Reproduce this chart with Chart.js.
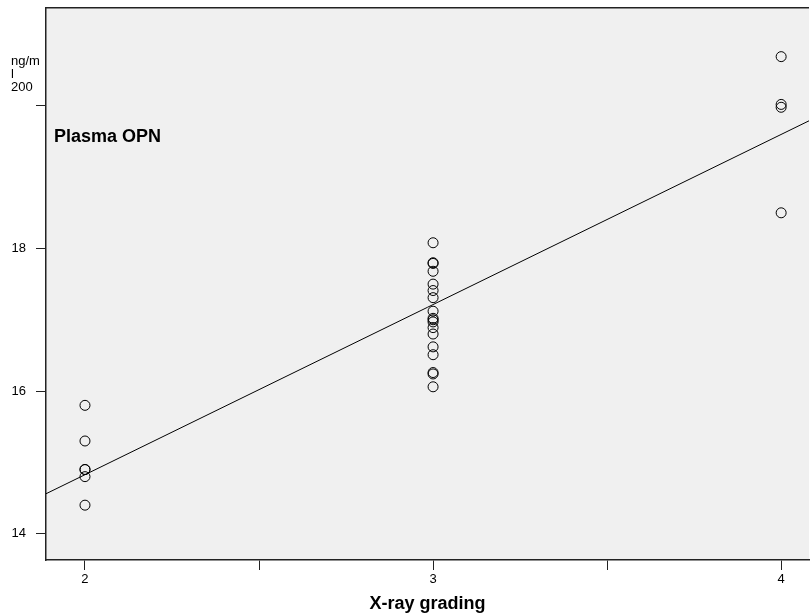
<!DOCTYPE html>
<html>
<head>
<meta charset="utf-8">
<script src="https://cdn.jsdelivr.net/npm/chart.js@4.4.1/dist/chart.umd.min.js"></script>
<style>
html,body{margin:0;padding:0;background:#fff;}
#wrap{width:810px;height:616px;position:relative;overflow:hidden;}
#c{position:absolute;left:0;top:-10px;}
</style>
</head>
<body>
<div id="wrap"><canvas id="c" width="815" height="626"></canvas></div>
<script>
// X-ray grade categories and plasma OPN values
const grades = [2, 3, 4];
const opnGrade2 = [15.8, 15.3, 14.9, 14.9, 14.8, 14.4];
const opnGrade3 = [18.08, 17.8, 17.79, 17.68, 17.5, 17.41, 17.31, 17.12, 17.02, 17.0, 16.97, 16.89, 16.8, 16.62, 16.51, 16.26, 16.24, 16.06];
const opnGrade4 = [20.69, 20.02, 19.98, 18.5];
// fitted regression line endpoints (at the axis limits)
const fitX = [1.888, 4.080];
const fitY = [14.56, 19.79];
// axis ticks
const xTicks = [2, 2.5, 3, 3.5, 4];
const xTickLabels = ['2', '', '3', '', '4'];
const yTicks = [14, 16, 18, 20];
const yTickLabels = ['14', '16', '18', ''];
const yUnitLines = ['ng/m', 'l', '200'];
const panelLabel = 'Plasma OPN';
const xTitle = 'X-ray grading';

const groups = [opnGrade2, opnGrade3, opnGrade4];
const points = [];
groups.forEach((vals, i) => vals.forEach(v => points.push({x: grades[i], y: v})));
const linePts = fitX.map((x, i) => ({x: x, y: fitY[i]}));

const FONT = 'Arial, "Liberation Sans", sans-serif';
const OY = 10; // canvas is shifted up by this many pixels

const deco = {
  id: 'deco',
  beforeDraw(chart) {
    const {ctx, chartArea: a} = chart;
    ctx.save();
    ctx.fillStyle = '#f0f0f0';
    ctx.fillRect(a.left, a.top, a.right - a.left, a.bottom - a.top);
    ctx.restore();
  },
  afterDraw(chart) {
    const {ctx, chartArea: a} = chart;
    ctx.save();
    ctx.strokeStyle = '#222';
    ctx.lineWidth = 1.5;
    ctx.beginPath();
    ctx.moveTo(a.left, a.top);
    ctx.lineTo(a.right, a.top);
    ctx.stroke();
    ctx.fillStyle = '#000';
    ctx.textBaseline = 'middle';
    ctx.textAlign = 'left';
    ctx.font = '13px ' + FONT;
    const ys = [61, 74, 87];
    yUnitLines.forEach((t, i) => ctx.fillText(t, 11, ys[i] + OY));
    ctx.font = 'bold 18px ' + FONT;
    ctx.fillText(panelLabel, 54, 137 + OY);
    ctx.textAlign = 'center';
    ctx.font = 'bold 18px ' + FONT;
    ctx.fillText(xTitle, (a.left + a.right) / 2, 604 + OY);
    ctx.restore();
  }
};

new Chart(document.getElementById('c'), {
  type: 'scatter',
  data: {
    datasets: [
      {
        type: 'line',
        data: linePts,
        borderColor: '#000',
        borderWidth: 1,
        pointRadius: 0,
        fill: false,
        order: 2
      },
      {
        type: 'scatter',
        data: points,
        pointStyle: 'circle',
        pointRadius: 5,
        borderColor: '#000',
        borderWidth: 1,
        backgroundColor: 'rgba(0,0,0,0)',
        order: 1
      }
    ]
  },
  plugins: [deco],
  options: {
    responsive: false,
    animation: false,
    events: [],
    layout: {padding: 0},
    plugins: {legend: {display: false}, tooltip: {enabled: false}},
    scales: {
      x: {
        type: 'linear',
        min: 1.888,
        max: 4.080,
        afterFit(s) { s.height = 56; },
        afterBuildTicks(s) { s.ticks = xTicks.map(v => ({value: v})); },
        ticks: {
          autoSkip: false,
          maxRotation: 0,
          padding: 2,
          color: '#000',
          font: {family: FONT, size: 13},
          callback: (v) => { const i = xTicks.indexOf(v); return i >= 0 ? xTickLabels[i] : ''; }
        },
        grid: {drawOnChartArea: false, drawTicks: true, tickLength: 10, color: '#222', lineWidth: 1},
        border: {display: true, color: '#222', width: 1.5}
      },
      y: {
        type: 'linear',
        min: 13.631,
        max: 21.375,
        afterFit(s) { s.width = 46; },
        afterBuildTicks(s) { s.ticks = yTicks.map(v => ({value: v})); },
        ticks: {
          autoSkip: false,
          padding: 10,
          color: '#000',
          font: {family: FONT, size: 13},
          callback: (v) => { const i = yTicks.indexOf(v); return i >= 0 ? yTickLabels[i] : ''; }
        },
        grid: {drawOnChartArea: false, drawTicks: true, tickLength: 10, color: '#222', lineWidth: 1},
        border: {display: true, color: '#222', width: 1.5}
      }
    }
  }
});
</script>
</body>
</html>
